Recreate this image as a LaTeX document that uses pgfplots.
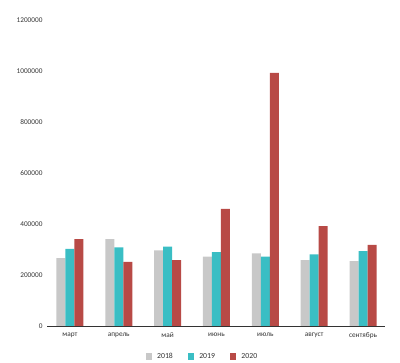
\documentclass[border=0pt]{standalone}
\usepackage{pgfplots}
\pgfplotsset{compat=1.18}
\usepackage{fontspec}
\setmainfont{Carlito}
\definecolor{cgray}{RGB}{200,200,200}
\definecolor{cteal}{RGB}{58,190,196}
\definecolor{cred}{RGB}{184,74,70}
\begin{document}
\begin{tikzpicture}
\begin{axis}[
  scale only axis,
  width=338bp, height=306bp,
  ybar=0pt, bar width=9bp,
  xmin=-0.47, xmax=6.45,
  ymin=0, ymax=1200000,
  xtick=data,
  xticklabels={март,апрель,май,июнь,июль,август,сентябрь},
  ytick={0,200000,400000,600000,800000,1000000,1200000},
  yticklabels={0,200000,400000,600000,800000,1000000,1200000},
  scaled y ticks=false,
  axis x line=bottom, axis y line=left,
  y axis line style={draw=none},
  x axis line style={-, draw=black!80, line width=0.8pt},
  major tick length=0pt,
  tick label style={font=\fontsize{7.3}{8}\selectfont, text=black!80},
  yticklabel style={xshift=-1bp},
  xticklabel style={yshift=-3bp},
  legend style={at={(0.46,-0.075)}, anchor=north, draw=none, fill=none,
    legend columns=3, font=\fontsize{7.8}{8}\selectfont, text=black!80,
    /tikz/every odd column/.append style={column sep=3bp},
    /tikz/every even column/.append style={column sep=13bp}},
  legend image code/.code={\path[#1] (0bp,-3.2bp) rectangle (6.4bp,3.2bp);},
]
\addplot[fill=cgray, draw=none] coordinates {(0,266000) (1,341000) (2,297000) (3,272000) (4,285000) (5,258000) (6,254000)};
\addplot[fill=cteal, draw=none] coordinates {(0,302000) (1,308000) (2,311000) (3,290000) (4,272000) (5,281000) (6,294000)};
\addplot[fill=cred, draw=none] coordinates {(0,341000) (1,251000) (2,258000) (3,459000) (4,993000) (5,392000) (6,318000)};
\legend{2018,2019,2020}
\end{axis}
\pgfresetboundingbox
\path[use as bounding box] (current axis.south west) ++(-47bp,-37bp) rectangle ++(400bp,363bp);
\end{tikzpicture}
\end{document}
